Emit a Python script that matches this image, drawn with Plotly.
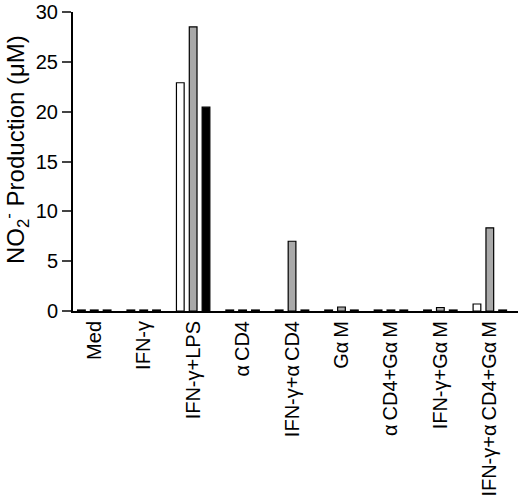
import plotly.graph_objects as go

categories = ["Med", "IFN-γ", "IFN-γ+LPS", "α\u2009CD4", "IFN-γ+α\u2009CD4", "Gα\u2009M",
              "α\u2009CD4+Gα\u2009M", "IFN-γ+Gα\u2009M", "IFN-γ+α\u2009CD4+Gα\u2009M"]
white_vals = [0.1, 0.1, 22.9, 0.1, 0.1, 0.1, 0.1, 0.1, 0.7]
gray_vals = [0.1, 0.1, 28.5, 0.1, 7.0, 0.4, 0.1, 0.35, 8.35]
black_vals = [0.1, 0.1, 20.45, 0.1, 0.1, 0.1, 0.1, 0.1, 0.1]
y_ticks = [0, 5, 10, 15, 20, 25, 30]

W, H = 520, 502
L, R, T, B = 73, 2, 12, 191
pw, ph = W - L - R, H - T - B

fig = go.Figure()
for name, vals, col in [("A", white_vals, "white"), ("B", gray_vals, "#a9a9a9"), ("C", black_vals, "black")]:
    fig.add_trace(go.Bar(x=categories, y=vals, name=name,
                         marker=dict(color=col, line=dict(color="black", width=1.2))))

fig.update_layout(
    width=W, height=H,
    margin=dict(l=L, r=R, t=T, b=B),
    paper_bgcolor="white", plot_bgcolor="white",
    showlegend=False,
    barmode="group", bargap=0.22, bargroupgap=0.4,
    font=dict(family="Liberation Sans, Arial, sans-serif", color="black"),
)
fig.update_xaxes(
    range=[-0.43, 8.57], showline=True, linecolor="black", linewidth=2,
    ticks="", tickangle=-90, tickfont=dict(size=20), showgrid=False,
    automargin=False,
)
fig.update_yaxes(
    range=[0, 30], tickvals=y_ticks, showline=True, linecolor="black", linewidth=2,
    ticks="outside", ticklen=9, tickwidth=1.5, tickfont=dict(size=20), showgrid=False,
    zeroline=False, automargin=False,
)
fig.add_annotation(
    text="NO<sub>2</sub><sup>-</sup> Production (μM)",
    xref="paper", yref="paper",
    x=(16 - L) / pw, y=1 - (150 - T) / ph,
    xanchor="center", yanchor="middle",
    textangle=-90, showarrow=False, font=dict(size=24),
)
fig.write_html("out.html", config={"displayModeBar": False},
               post_script="document.body.style.margin='0';")
